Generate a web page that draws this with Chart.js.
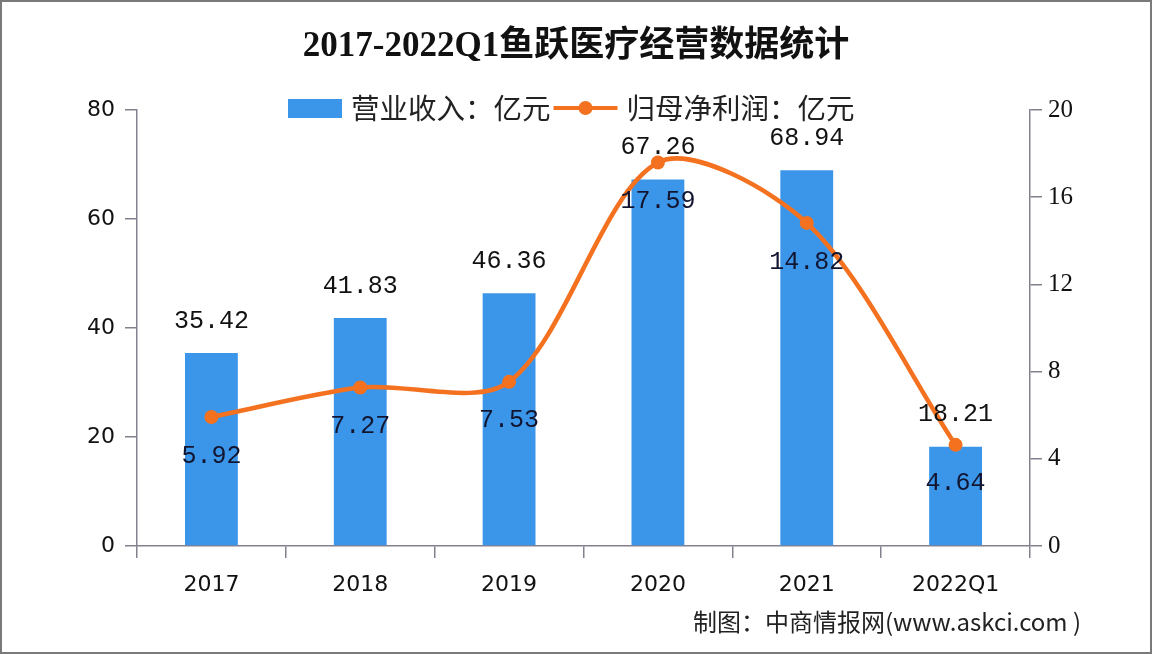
<!DOCTYPE html>
<html>
<head>
<meta charset="utf-8">
<script src="https://cdn.jsdelivr.net/npm/chart.js@4/dist/chart.umd.min.js"></script>
<style>
    html, body { margin: 0; padding: 0; background: #fff; }
    #wrap { width: 1152px; height: 654px; position: relative; }
</style>
</head>
<body>
<div id="wrap"><canvas id="chart"></canvas></div>
<script>
const years = ['2017', '2018', '2019', '2020', '2021', '2022Q1'];
const revenue = [35.42, 41.83, 46.36, 67.26, 68.94, 18.21];     // 营业收入（亿元）
const netProfit = [5.92, 7.27, 7.53, 17.59, 14.82, 4.64];       // 归母净利润（亿元）
const leftTicks = [0, 20, 40, 60, 80];
const rightTicks = [0, 4, 8, 12, 16, 20];

const BLUE = '#3b96ea';
const ORANGE = '#f4711f';
const AXIS = '#85808f';
const CJK = '"Noto Sans CJK SC", sans-serif';

// white background + thin frame
const framePlugin = {
    id: 'frame',
    beforeDraw(chart) {
        const ctx = chart.ctx;
        ctx.save();
        ctx.fillStyle = '#fff';
        ctx.fillRect(0, 0, chart.width, chart.height);
        ctx.restore();
    },
    afterDraw(chart) {
        const ctx = chart.ctx;
        ctx.save();
        ctx.strokeStyle = '#7a7a7a';
        ctx.lineWidth = 2;
        ctx.strokeRect(1, 1, chart.width - 2, chart.height - 2);
        ctx.restore();
    }
};

// legend drawn across the top of the plot
const topLegend = {
    id: 'topLegend',
    afterDraw(chart) {
        const ctx = chart.ctx;
        const y = 108;
        let x = 288;
        ctx.save();
        ctx.font = '28.5px ' + CJK;
        ctx.textBaseline = 'middle';

        const ds = chart.data.datasets;
        ctx.fillStyle = ds[0].backgroundColor;
        ctx.fillRect(x, y - 9, 54, 19);
        x += 63;
        ctx.fillStyle = '#222';
        ctx.fillText(ds[0].label, x, y);
        x += ctx.measureText(ds[0].label).width + 3;

        ctx.strokeStyle = ds[1].borderColor;
        ctx.lineWidth = 4;
        ctx.beginPath();
        ctx.moveTo(x, y);
        ctx.lineTo(x + 64, y);
        ctx.stroke();
        ctx.fillStyle = ds[1].borderColor;
        ctx.beginPath();
        ctx.arc(x + 32, y, 7, 0, Math.PI * 2);
        ctx.fill();
        x += 73;
        ctx.fillStyle = '#222';
        ctx.fillText(ds[1].label, x, y);
        ctx.restore();
    }
};

// value labels: above bars, below line points
const valueLabels = {
    id: 'valueLabels',
    afterDatasetsDraw(chart) {
        const ctx = chart.ctx;
        ctx.save();
        ctx.font = '25px "Liberation Mono", monospace';
        ctx.textAlign = 'center';
        ctx.textBaseline = 'middle';

        const barMeta = chart.getDatasetMeta(0);
        ctx.fillStyle = '#111';
        barMeta.data.forEach((bar, i) => {
            ctx.fillText(revenue[i].toFixed(2), bar.x, bar.y - 32);
        });

        const lineMeta = chart.getDatasetMeta(1);
        ctx.fillStyle = '#121530';
        lineMeta.data.forEach((pt, i) => {
            ctx.fillText(netProfit[i].toFixed(2), pt.x, pt.y + 39);
        });
        ctx.restore();
    }
};

const footer = {
    id: 'footer',
    afterDraw(chart) {
        const ctx = chart.ctx;
        ctx.save();
        ctx.font = '24px ' + CJK;
        ctx.textBaseline = 'middle';
        ctx.fillStyle = '#222';
        ctx.fillText('制图：中商情报网(www.askci.com )', 693, 622);
        ctx.restore();
    }
};

new Chart(document.getElementById('chart'), {
    data: {
        labels: years,
        datasets: [
            {
                type: 'bar',
                label: '营业收入：亿元',
                data: revenue,
                backgroundColor: BLUE,
                yAxisID: 'y',
                categoryPercentage: 1,
                barPercentage: 0.355,
                order: 2
            },
            {
                type: 'line',
                label: '归母净利润：亿元',
                data: netProfit,
                borderColor: ORANGE,
                backgroundColor: ORANGE,
                borderWidth: 4.5,
                pointRadius: 7,
                pointBackgroundColor: ORANGE,
                pointBorderColor: ORANGE,
                pointBorderWidth: 0,
                tension: 0.3,
                yAxisID: 'y1',
                order: 1
            }
        ]
    },
    options: {
        responsive: true,
        maintainAspectRatio: false,
        devicePixelRatio: 1,
        animation: false,
        layout: { padding: 0 },
        plugins: {
            legend: { display: false },
            tooltip: { enabled: false },
            title: {
                display: true,
                text: '2017-2022Q1鱼跃医疗经营数据统计',
                color: '#111',
                font: { family: '"Liberation Serif", "Noto Sans CJK SC", serif', size: 35, weight: 'bold', lineHeight: 1.2 },
                padding: { top: 26, bottom: 42 }
            }
        },
        scales: {
            x: {
                offset: true,
                grid: { offset: true, drawOnChartArea: false, tickLength: 12, color: AXIS, lineWidth: 1.5 },
                border: { color: AXIS, width: 1.5 },
                ticks: {
                    color: '#111',
                    font: { family: '"DejaVu Sans", sans-serif', size: 22 },
                    padding: 14,
                    maxRotation: 0,
                    autoSkip: false
                },
                afterFit(scale) { scale.height = 108; }
            },
            y: {
                position: 'left',
                min: 0,
                max: 80,
                afterBuildTicks(scale) { scale.ticks = leftTicks.map(v => ({ value: v })); },
                grid: { drawOnChartArea: false, tickLength: 12, color: AXIS, lineWidth: 1.5 },
                border: { color: AXIS, width: 1.5 },
                ticks: {
                    color: '#111',
                    font: { family: '"DejaVu Sans", sans-serif', size: 22 },
                    padding: 10
                },
                afterFit(scale) { scale.width = 137; }
            },
            y1: {
                position: 'right',
                min: 0,
                max: 20,
                afterBuildTicks(scale) { scale.ticks = rightTicks.map(v => ({ value: v })); },
                grid: { drawOnChartArea: false, tickLength: 12, color: AXIS, lineWidth: 1.5 },
                border: { color: AXIS, width: 1.5 },
                ticks: {
                    color: '#111',
                    font: { family: '"Liberation Serif", serif', size: 25 },
                    padding: 6
                },
                afterFit(scale) { scale.width = 122; }
            }
        }
    },
    plugins: [framePlugin, topLegend, valueLabels, footer]
});
</script>
</body>
</html>
